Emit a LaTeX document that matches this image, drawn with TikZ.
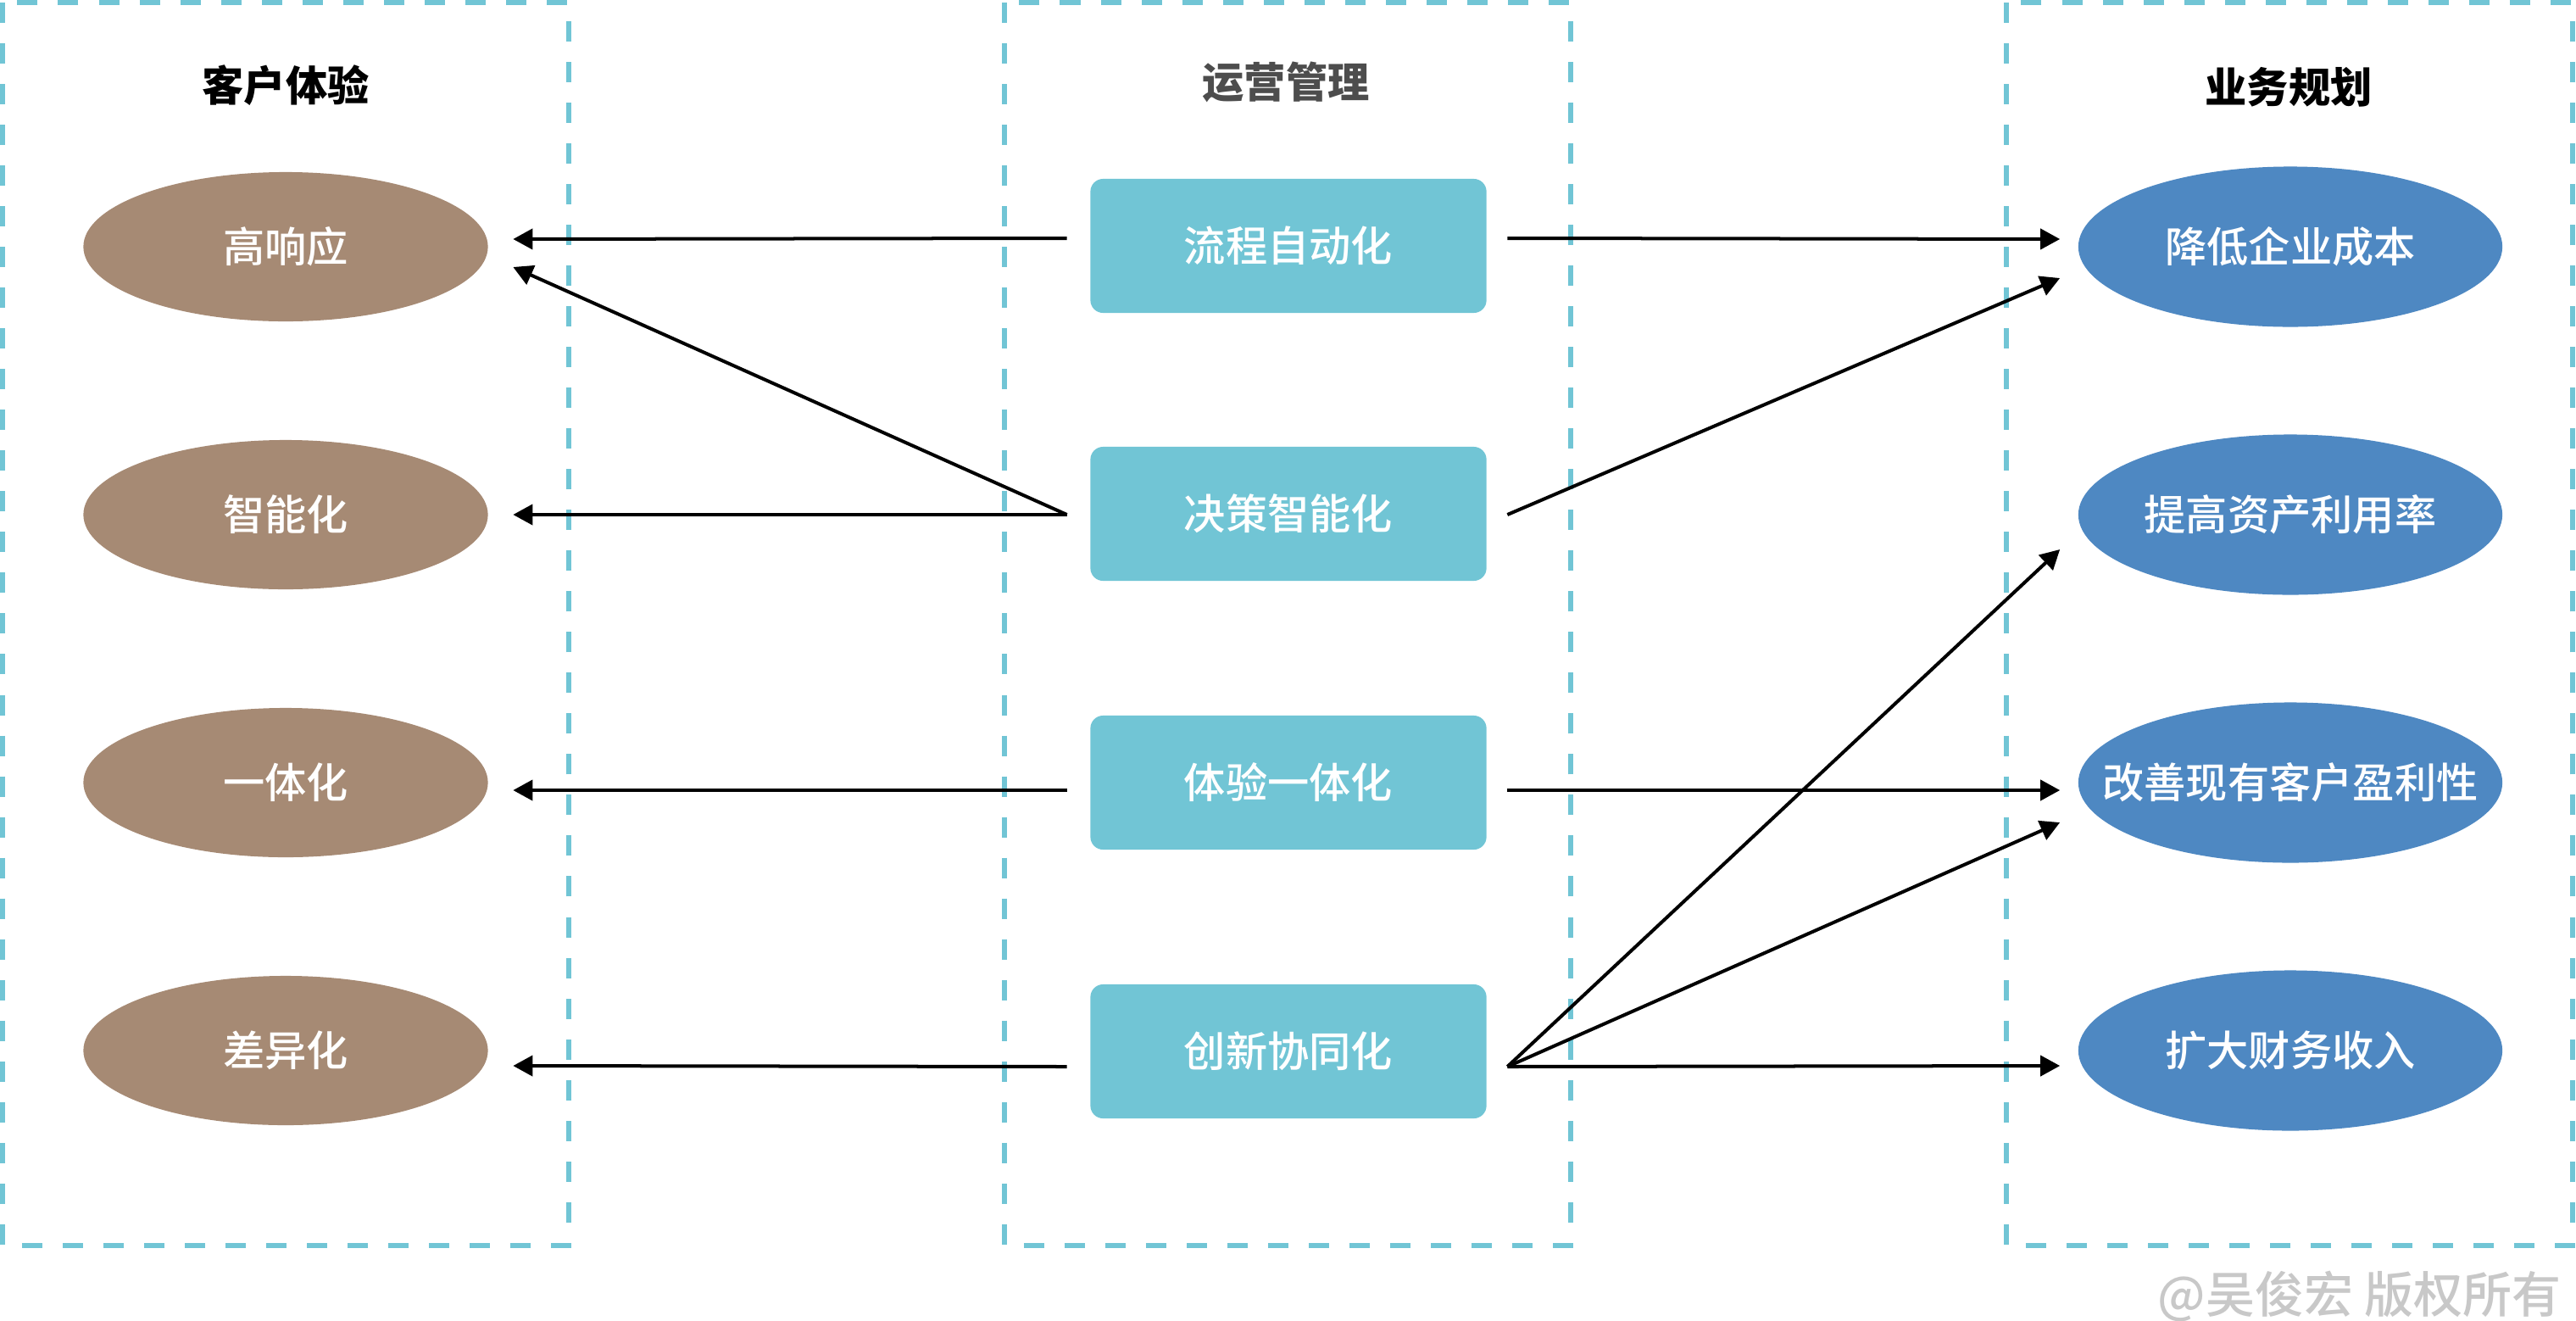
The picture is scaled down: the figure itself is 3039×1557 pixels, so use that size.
\documentclass[tikz,border=0pt]{standalone}
\usepackage{fontspec}
\setmainfont{Noto Sans CJK SC}
\newfontfamily\cjkmed{Noto Sans CJK SC Medium}
\usetikzlibrary{shapes.geometric}
\usetikzlibrary{calc}
\usetikzlibrary {arrows.meta}
\tikzset{>={Triangle[length=2.3mm, width=2.4mm]}}
\definecolor{kehu}{HTML}{A68A74}
\definecolor{yunying}{HTML}{71C5D5}
\definecolor{yewu}{HTML}{4E88C2}
\definecolor{midtitle}{HTML}{4D4D4D}
\definecolor{wmgray}{HTML}{C8C8C8}

\begin{document}
\begin{tikzpicture}[x=0.01cm, y=-0.01cm,
	frame/.style={draw=yunying, line width=0.06cm, dash pattern=on 0.24cm off 0.24cm},
	coltitle/.style={font=\fontsize{14}{16}\selectfont\bfseries},
	kehunode/.style={ellipse, fill=kehu, text=white, inner sep=0pt,
			 minimum width=4.77cm, minimum height=1.76cm, font=\fontsize{14}{16}\cjkmed},
	yunyingnode/.style={rectangle, rounded corners=0.15cm, fill=yunying, text=white,
			    minimum width=4.67cm, minimum height=1.58cm, font=\fontsize{14}{16}\cjkmed},
	yewunode/.style={ellipse, fill=yewu, text=white, inner sep=0pt,
			 minimum width=5.0cm, minimum height=1.89cm, font=\fontsize{14}{16}\cjkmed},
	arr/.style={->, line width=0.04cm}]
\useasboundingbox (0, 0) rectangle (3039, 1557);

% three columns
\draw [frame] (3, 3) rectangle (671, 1469);
\draw [frame] (1185, 3) rectangle (1853, 1469);
\draw [frame] (2367, 3) rectangle (3035, 1469);

\node [coltitle] (t1) at (337, 101) {客户体验};
\node [coltitle, text=midtitle] (t2) at (1517, 97) {运营管理};
\node [coltitle] (t3) at (2700, 103) {业务规划};

\node [kehunode] (k1) at (337, 291) {高响应};
\node [kehunode] (k2) at (337, 607) {智能化};
\node [kehunode] (k3) at (337, 923) {一体化};
\node [kehunode] (k4) at (337, 1239) {差异化};

\node [yunyingnode] (p1) at (1520, 290) {流程自动化};
\node [yunyingnode] (p2) at (1520, 606) {决策智能化};
\node [yunyingnode] (p3) at (1520, 923) {体验一体化};
\node [yunyingnode] (p4) at (1520, 1240) {创新协同化};

\node [yewunode] (y1) at (2702, 291) {\makebox[0pt]{降低企业成本}};
\node [yewunode] (y2) at (2702, 607) {\makebox[0pt]{提高资产利用率}};
\node [yewunode] (y3) at (2702, 923) {\makebox[0pt]{改善现有客户盈利性}};
\node [yewunode] (y4) at (2702, 1239) {\makebox[0pt]{扩大财务收入}};

	\draw [arr] ($(p1.west) + (-27, -9)$) -- ($(k1.east) + (29, -9)$);
	\draw [arr] ($(p2.west) + (-27, 1)$) -- ($(k1.east) + (29, 24)$);
	\draw [arr] ($(p2.west) + (-27, 1)$) -- ($(k2.east) + (29, 0)$);
	\draw [arr] ($(p3.west) + (-27, 9)$) -- ($(k3.east) + (29, 9)$);
	\draw [arr] ($(p4.west) + (-27, 18)$) -- ($(k4.east) + (29, 18)$);

	\draw [arr] ($(p1.east) + (24, -9)$) -- ($(y1.west) + (-21, -9)$);
	\draw [arr] ($(p2.east) + (24, 1)$) -- ($(y1.west) + (-21, 37)$);
	\draw [arr] ($(p3.east) + (24, 9)$) -- ($(y3.west) + (-21, 9)$);
	\draw [arr] ($(p4.east) + (24, 18)$) -- ($(y2.west) + (-21, 41)$);
	\draw [arr] ($(p4.east) + (24, 18)$) -- ($(y3.west) + (-21, 47)$);
	\draw [arr] ($(p4.east) + (24, 18)$) -- ($(y4.west) + (-21, 18)$);

\node [anchor=east, text=wmgray, font=\fontsize{16.5}{18}\cjkmed] (wm) at (3034, 1529) {@吴俊宏 版权所有};
\end{tikzpicture}
\end{document}
